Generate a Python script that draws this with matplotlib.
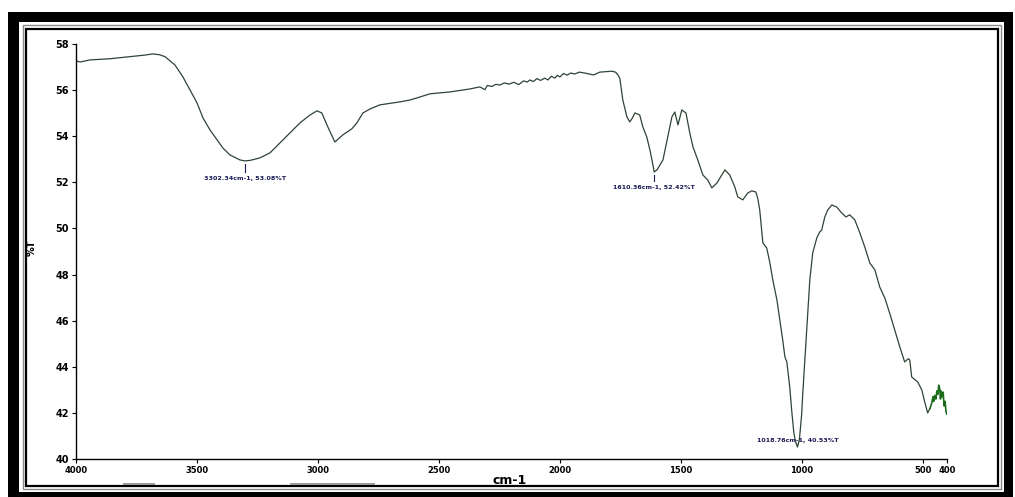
import matplotlib
matplotlib.use("Agg")
import matplotlib.pyplot as plt
from matplotlib.patches import Rectangle

# ---- data (wavenumber cm-1, %T) ----
wavenumber = [4000, 3983, 3942, 3860, 3777, 3715, 3682, 3653, 3632, 3591, 3558, 3529,
              3500, 3475, 3446, 3417, 3393, 3364, 3322, 3302, 3281, 3240, 3198, 3157,
              3116, 3074, 3033, 3004, 2984, 2959, 2930, 2897, 2860, 2839, 2814, 2785,
              2744, 2661, 2620, 2579, 2537, 2455, 2372, 2331, 2310, 2300, 2280, 2265,
              2248, 2230, 2210, 2190, 2170, 2150, 2135, 2124, 2110, 2095, 2080, 2062,
              2050, 2035, 2021, 2010, 2000, 1985, 1970, 1955, 1938, 1920, 1897, 1880,
              1860, 1835, 1810, 1785, 1770, 1760, 1752, 1740, 1723, 1711, 1700, 1690,
              1670, 1657, 1641, 1628, 1620, 1610, 1598, 1574, 1554, 1537, 1525, 1512,
              1496, 1479, 1463, 1450, 1430, 1409, 1389, 1372, 1351, 1331, 1318, 1298,
              1277, 1265, 1244, 1223, 1207, 1190, 1182, 1174, 1161, 1145, 1132, 1120,
              1103, 1091, 1079, 1070, 1062, 1050, 1041, 1033, 1026, 1018, 1010, 1001,
              996, 984, 975, 967, 955, 938, 926, 918, 905, 893, 876, 856, 835, 818,
              802, 781, 760, 740, 719, 698, 678, 657, 637, 616, 595, 575, 560, 554,
              546, 521, 504, 492, 480, 470]
transmittance = [57.27, 57.22, 57.31, 57.36, 57.45, 57.52, 57.57, 57.53, 57.45, 57.09, 56.57, 56.01,
                 55.45, 54.79, 54.27, 53.84, 53.49, 53.19, 52.97, 52.93, 52.95, 53.06, 53.28, 53.71,
                 54.14, 54.58, 54.92, 55.10, 55.01, 54.40, 53.75, 54.06, 54.32, 54.58, 55.01, 55.18,
                 55.36, 55.49, 55.57, 55.70, 55.84, 55.92, 56.05, 56.14, 56.02, 56.20, 56.16, 56.25,
                 56.22, 56.31, 56.26, 56.34, 56.24, 56.40, 56.35, 56.44, 56.37, 56.50, 56.42, 56.52,
                 56.44, 56.60, 56.52, 56.64, 56.57, 56.72, 56.65, 56.74, 56.70, 56.78, 56.74, 56.70,
                 56.66, 56.78, 56.80, 56.82, 56.78, 56.66, 56.50, 55.57, 54.84, 54.62, 54.80, 55.01,
                 54.92, 54.40, 53.97, 53.41, 53.00, 52.45, 52.55, 52.97, 53.97, 54.84, 55.05, 54.49,
                 55.14, 55.01, 54.14, 53.54, 52.97, 52.32, 52.10, 51.76, 51.97, 52.32, 52.54, 52.32,
                 51.80, 51.37, 51.24, 51.54, 51.63, 51.58, 51.30, 50.80, 49.37, 49.15, 48.50, 47.77,
                 46.90, 46.03, 45.16, 44.43, 44.21, 43.12, 42.00, 41.13, 40.75, 40.52, 40.85, 41.90,
                 42.86, 44.86, 46.33, 47.77, 48.94, 49.59, 49.85, 49.93, 50.50, 50.80, 51.02, 50.93,
                 50.67, 50.50, 50.59, 50.37, 49.80, 49.20, 48.50, 48.20, 47.46, 46.98, 46.33, 45.60,
                 44.86, 44.21, 44.35, 44.30, 43.56, 43.34, 42.99, 42.47, 42.00, 42.20]
tail_wavenumber = [470, 463, 458, 455, 451, 446, 442, 438, 434, 430, 427, 424, 420,
                   416, 412, 408, 404, 401]
tail_transmittance = [42.20, 42.43, 42.70, 42.50, 42.75, 42.60, 42.95, 42.80, 43.20, 43.05,
                      42.60, 42.95, 42.70, 42.90, 42.30, 42.50, 42.05, 41.95]

peak_positions = [3302, 1610, 1018]
peak_values = [52.93, 52.45, 40.52]
peak_labels = ["3302.34cm-1, 53.08%T", "1610.36cm-1, 52.42%T", "1018.76cm-1, 40.53%T"]
label_values = [52.15, 51.76, 40.82]

x_ticks = [4000, 3500, 3000, 2500, 2000, 1500, 1000, 500, 400]
y_ticks = [40, 42, 44, 46, 48, 50, 52, 54, 56, 58]

W, H = 1015, 497
fig = plt.figure(figsize=(W / 100, H / 100), dpi=100)
fig.patch.set_facecolor("white")

# ---- frame decoration (pixel coords, top-left origin) ----
def band(x0, y0, x1, y1, color):
    fig.add_artist(Rectangle((x0 / W, 1 - y1 / H), (x1 - x0) / W, (y1 - y0) / H,
                             transform=fig.transFigure, facecolor=color,
                             edgecolor="none", zorder=0))

def outline(x0, y0, x1, y1, color, lw):
    fig.add_artist(Rectangle((x0 / W, 1 - y1 / H), (x1 - x0) / W, (y1 - y0) / H,
                             transform=fig.transFigure, fill=False,
                             edgecolor=color, linewidth=lw, zorder=0))

band(8, 12, 19, 497, "black")
band(8, 12, 1013, 22, "black")
band(1004, 12, 1013, 497, "black")
band(8, 492, 1013, 497, "black")
outline(22.5, 24.5, 1001, 489, "#8a8a8a", 1.0)
outline(26, 29, 998, 485.5, "black", 1.6)
band(123, 483, 155, 485, "#9a9a9a")
band(290, 483, 375, 485, "#9a9a9a")

# ---- axes ----
ax = fig.add_axes([76 / W, 1 - 459 / H, (947 - 76) / W, (459 - 44) / H])
ax.set_facecolor("none")
ax.plot(wavenumber, transmittance, color="#2e4434", lw=0.9)
ax.plot(tail_wavenumber, tail_transmittance, color="#1d6b1d", lw=1.2)

ax.set_xlim(4000, 400)
ax.set_ylim(40, 58)
ax.set_xticks(x_ticks)
ax.set_xticklabels([str(t) for t in x_ticks], fontsize=6, fontweight="bold")
ax.set_yticks(y_ticks)
ax.set_yticklabels([str(t) for t in y_ticks], fontsize=7, fontweight="bold")
for s in ["top", "right"]:
    ax.spines[s].set_visible(False)
for s in ["left", "bottom"]:
    ax.spines[s].set_linewidth(1.0)
ax.tick_params(direction="out", length=3, width=0.8, pad=2)

# annotations
for i, (w, t, lab, ty) in enumerate(zip(peak_positions, peak_values, peak_labels, label_values)):
    if i < 2:
        ax.plot([w, w], [t - 0.12, ty + 0.3], color="#1a1a55", lw=0.8)
    ax.text(w, ty, lab, ha="center", va="center", fontsize=4.6,
            fontweight="bold", color="#1a1a55")

fig.text(32 / W, 1 - 248 / H, "%T", rotation=90, ha="center", va="center",
         fontsize=7, fontweight="bold")
fig.text(510 / W, 1 - 480 / H, "cm-1", ha="center", va="center",
         fontsize=9, fontweight="bold")

fig.savefig("out.png", dpi=100)
